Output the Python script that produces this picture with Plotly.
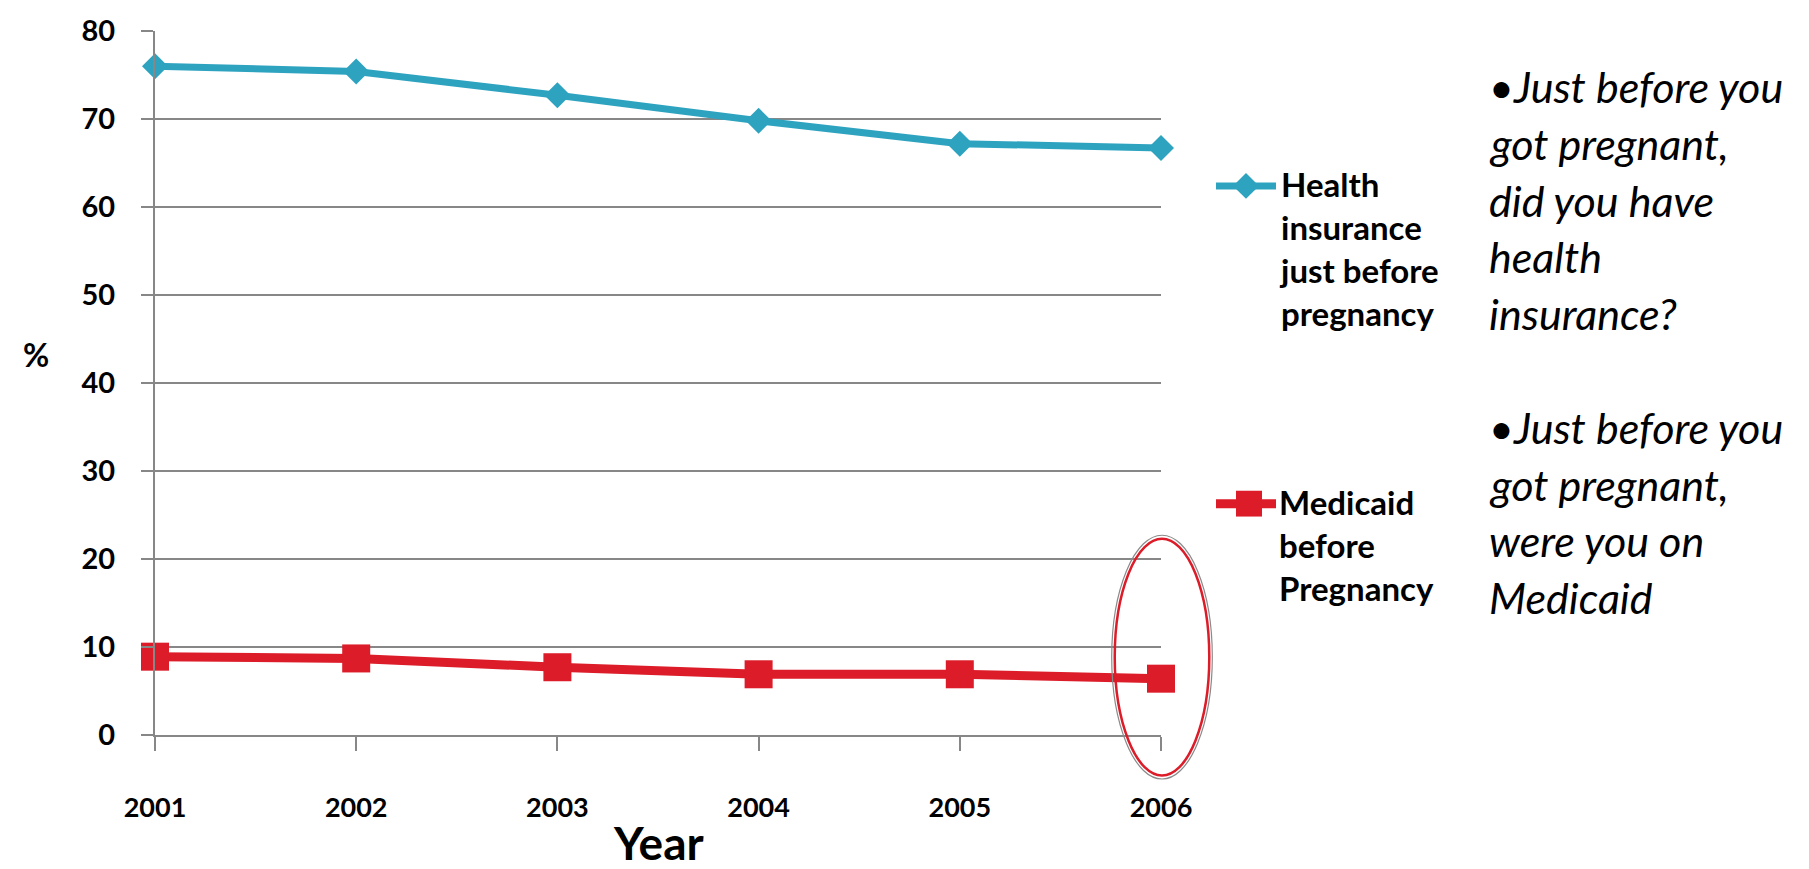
import plotly.graph_objects as go

# Survey years and percentages
years = [2001, 2002, 2003, 2004, 2005, 2006]
health_insurance = [76.0, 75.4, 72.7, 69.8, 67.2, 66.7]
medicaid = [8.9, 8.7, 7.7, 6.9, 6.9, 6.4]
y_ticks = [0, 10, 20, 30, 40, 50, 60, 70, 80]
series_names = ["Health<br>insurance<br>just before<br>pregnancy",
                "Medicaid<br>before<br>Pregnancy"]
question_lines = ["•Just before you", "got pregnant,", "did you have", "health",
                  "insurance?", "", "•Just before you", "got pregnant,",
                  "were you on", "Medicaid"]

BLUE = "#2EA3C0"
RED = "#DC1C28"
GRID = "#878787"
W, H = 1809, 869
ML, MR, MT, MB = 155, 648, 26, 134
PW, PH = W - ML - MR, H - MT - MB
Y_MAX = y_ticks[-1]


def px_x(px):
    return (px - ML) / PW


def px_y(py):
    return (H - MB - py) / PH


def data_x(v):
    return (v - years[0]) / (years[-1] - years[0])


def data_y(v):
    return v / Y_MAX


fig = go.Figure()
fig.add_trace(go.Scatter(
    x=years, y=health_insurance, mode="lines+markers", name="Health insurance",
    line=dict(color=BLUE, width=7),
    marker=dict(symbol="diamond", size=20, color=BLUE),
    cliponaxis=False, showlegend=False))
fig.add_trace(go.Scatter(
    x=years, y=medicaid, mode="lines+markers", name="Medicaid",
    line=dict(color=RED, width=9),
    marker=dict(symbol="square", size=28, color=RED),
    cliponaxis=False, showlegend=False))

shapes = []
annotations = []

# Highlight ellipse around the final year (paper coords so it is not clipped)
cx = years[-1]
shapes.append(dict(type="circle", xref="paper", yref="paper",
                   x0=data_x(cx - 0.245), x1=data_x(cx + 0.255),
                   y0=data_y(-5.0), y1=data_y(22.7),
                   line=dict(color="#8a8a8a", width=1.2)))
shapes.append(dict(type="circle", xref="paper", yref="paper",
                   x0=data_x(cx - 0.23), x1=data_x(cx + 0.24),
                   y0=data_y(-4.6), y1=data_y(22.3),
                   line=dict(color=RED, width=2.5)))

# Legend keys: line segment with a marker, followed by a multi-line label
legend_specs = [
    (series_names[0], BLUE, 7, "diamond", 182),
    (series_names[1], RED, 9, "square", 502),
]
for label, color, lw, sym, ky in legend_specs:
    shapes.append(dict(type="line", xref="paper", yref="paper",
                       x0=px_x(1216), x1=px_x(1276), y0=px_y(ky), y1=px_y(ky),
                       line=dict(color=color, width=lw)))
    if sym == "diamond":
        cxp, r = 1246, 13
        path = (f"M {px_x(cxp - r)} {px_y(ky)} L {px_x(cxp)} {px_y(ky - r)} "
                f"L {px_x(cxp + r)} {px_y(ky)} L {px_x(cxp)} {px_y(ky + r)} Z")
    else:
        cxp, r = 1249, 13
        path = (f"M {px_x(cxp - r)} {px_y(ky - r)} L {px_x(cxp + r)} {px_y(ky - r)} "
                f"L {px_x(cxp + r)} {px_y(ky + r)} L {px_x(cxp - r)} {px_y(ky + r)} Z")
    shapes.append(dict(type="path", xref="paper", yref="paper", path=path,
                       fillcolor=color, line=dict(width=0)))
    annotations.append(dict(
        text=label, xref="paper", yref="paper", x=px_x(1277), y=px_y(ky - 24),
        xanchor="left", yanchor="top", align="left", showarrow=False,
        font=dict(family="Lato", size=33, color="black", weight="bold")))

# Survey question text on the right
for i, line in enumerate(question_lines):
    if not line:
        continue
    annotations.append(dict(
        text=f"<i>{line}</i>", xref="paper", yref="paper",
        x=px_x(1487), y=px_y(82 + 57.2 * i), xanchor="left", yanchor="middle",
        showarrow=False,
        font=dict(family="Lato", size=43, color="black", style="italic")))

# Axis titles
annotations.append(dict(text="<b>%</b>", xref="paper", yref="paper",
                        x=px_x(36), y=px_y(352), xanchor="center", yanchor="middle",
                        showarrow=False,
                        font=dict(family="Lato", size=32, color="black")))
annotations.append(dict(text="<b>Year</b>", xref="paper", yref="paper",
                        x=0.5, y=px_y(843), xanchor="center", yanchor="middle",
                        showarrow=False,
                        font=dict(family="Lato", size=46, color="black")))

fig.update_layout(
    width=W, height=H,
    margin=dict(l=ML, r=MR, t=MT, b=MB, pad=0),
    paper_bgcolor="white", plot_bgcolor="white",
    shapes=shapes, annotations=annotations,
    xaxis=dict(range=[years[0], years[-1]], tickvals=years,
               ticktext=[str(y) for y in years],
               showgrid=False, zeroline=False,
               showline=True, linecolor=GRID, linewidth=2,
               ticks="outside", ticklen=14, tickwidth=2, tickcolor=GRID,
               ticklabelstandoff=34,
               tickfont=dict(family="Lato", size=27, color="black", weight="bold")),
    yaxis=dict(range=[0, Y_MAX], tickvals=y_ticks,
               showgrid=True, gridcolor=GRID, gridwidth=2,
               zeroline=False, showline=True, linecolor=GRID, linewidth=2,
               ticks="outside", ticklen=12, tickwidth=2, tickcolor=GRID,
               ticklabelstandoff=20,
               tickfont=dict(family="Lato", size=29, color="black", weight="bold")),
    showlegend=False,
)

fig.write_html("out.html")
